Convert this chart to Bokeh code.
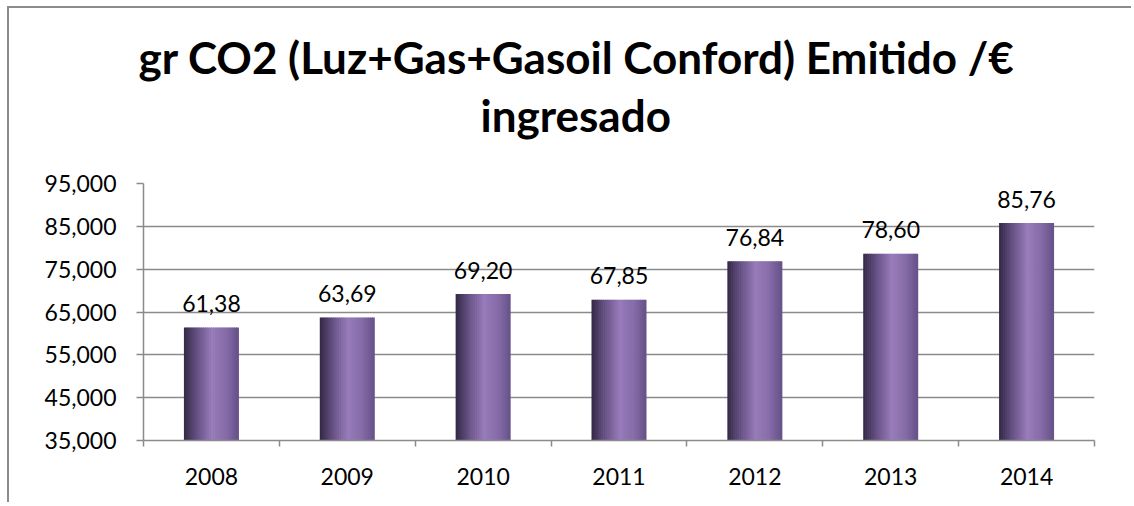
from bokeh.plotting import figure
from bokeh.models import ColumnDataSource, FixedTicker, Title
from bokeh.core.properties import value
from bokeh.embed import file_html
from bokeh.resources import INLINE

# ---- data ----
years = ["2008", "2009", "2010", "2011", "2012", "2013", "2014"]
values = [61.38, 63.69, 69.20, 67.85, 76.84, 78.60, 85.76]
value_labels = ["61,38", "63,69", "69,20", "67,85", "76,84", "78,60", "85,76"]
y_ticks = [35, 45, 55, 65, 75, 85, 95]
y_tick_labels = ["35,000", "45,000", "55,000", "65,000", "75,000", "85,000", "95,000"]
title_line1 = "gr CO2 (Luz+Gas+Gasoil Conford) Emitido /\u20ac"
title_line2 = "ingresado"

# ---- style ----
FONT = "Lato"
GRID = "#8b8b8b"
BAR_W = 0.40
N_STRIPS = 28
stops = [(0.00, (0x33, 0x28, 0x45)), (0.22, (0x62, 0x4e, 0x80)),
         (0.52, (0x98, 0x7b, 0xba)), (0.78, (0x85, 0x6b, 0xa8)),
         (1.00, (0x66, 0x51, 0x88))]


def grad(t):
    for (t0, c0), (t1, c1) in zip(stops[:-1], stops[1:]):
        if t0 <= t <= t1:
            f = (t - t0) / (t1 - t0)
            return "#%02x%02x%02x" % tuple(int(round(a + (b - a) * f)) for a, b in zip(c0, c1))
    return "#%02x%02x%02x" % stops[-1][1]


p = figure(width=1124, height=496, x_range=(0, len(years)), y_range=(35, 95),
           output_backend="svg", toolbar_location=None, tools="",
           min_border_left=134, min_border_right=39, min_border_bottom=64, min_border_top=175)
p.styles = {"border-left": "2px solid #8b8b8b", "border-top": "2px solid #8b8b8b",
            "margin-left": "7px", "margin-top": "6px"}
p.outline_line_color = None
p.background_fill_color = "white"
p.border_fill_color = "white"

# gradient bars made of strips
xs, tops, cols = [], [], []
sw = BAR_W / N_STRIPS
for i, v in enumerate(values):
    for k in range(N_STRIPS):
        t = (k + 0.5) / N_STRIPS
        xs.append(i + 0.5 - BAR_W / 2 + t * BAR_W)
        tops.append(v)
        cols.append(grad(t))
p.vbar(x=xs, top=tops, bottom=35, width=sw * 1.35, fill_color=cols, line_color=None)

# value labels
src = ColumnDataSource(dict(x=[i + 0.5 for i in range(len(values))], y=values, t=value_labels))
p.text(x="x", y="y", text="t", source=src, y_offset=-24, text_align="center",
       text_baseline="alphabetic", text_font=value(FONT), text_font_size="23px",
       text_color="#000000")

# axes
p.xaxis.ticker = FixedTicker(ticks=[i + 0.5 for i in range(len(years))],
                             minor_ticks=list(range(len(years) + 1)))
p.xaxis.major_label_overrides = {i + 0.5: y for i, y in enumerate(years)}
p.xaxis.major_tick_out = 0
p.xaxis.major_tick_in = 0
p.xaxis.minor_tick_out = 6
p.xaxis.minor_tick_in = 0
p.xaxis.minor_tick_line_color = GRID
p.xaxis.minor_tick_line_width = 1.5
p.xaxis.axis_line_color = GRID
p.xaxis.axis_line_width = 1.5
p.xaxis.major_label_standoff = 21

p.yaxis.ticker = FixedTicker(ticks=y_ticks)
p.yaxis.major_label_overrides = dict(zip(y_ticks, y_tick_labels))
p.yaxis.major_tick_out = 7
p.yaxis.major_tick_in = 0
p.yaxis.minor_tick_line_color = None
p.yaxis.major_tick_line_color = GRID
p.yaxis.major_tick_line_width = 1.5
p.yaxis.axis_line_color = GRID
p.yaxis.axis_line_width = 1.5
p.yaxis.major_label_standoff = 20

for ax in (p.xaxis, p.yaxis):
    ax.major_label_text_font = FONT
    ax.major_label_text_font_size = "23px"
    ax.major_label_text_color = "#000000"

p.xgrid.visible = False
p.ygrid.ticker = FixedTicker(ticks=y_ticks)
p.ygrid.grid_line_color = GRID
p.ygrid.grid_line_width = 1.5

# spacer between title and plot, then the two title lines
p.add_layout(Title(text="\u00a0", standoff=35, text_font=FONT, text_font_size="1px"), "above")
p.add_layout(Title(text=title_line2, align="left", offset=337, standoff=9,
                   text_font=FONT, text_font_size="44px", text_font_style="bold",
                   text_color="#000000"), "above")
p.add_layout(Title(text=title_line1, align="left", offset=-5, standoff=0,
                   text_font=FONT, text_font_size="44px", text_font_style="bold",
                   text_color="#000000"), "above")

open("out.html", "w").write(file_html(p, INLINE))
